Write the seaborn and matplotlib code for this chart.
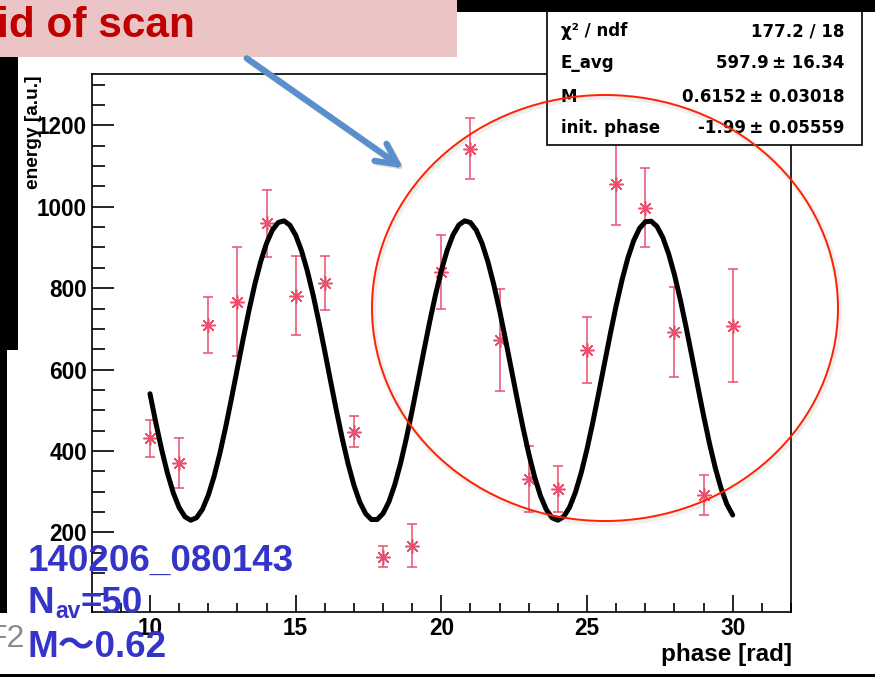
import numpy as np
import matplotlib
matplotlib.use("Agg")
import matplotlib.pyplot as plt
import matplotlib.patheffects as pe
from matplotlib.patches import Rectangle, Ellipse, FancyArrowPatch, ArrowStyle
from matplotlib.ticker import MultipleLocator
import seaborn as sns

# ---- measured scan points ----
phase = [10, 11, 12, 13, 14, 15, 16, 17, 18, 19, 20,
         21, 22, 23, 24, 25, 26, 27, 28, 29, 30]
energy = [431, 370, 710, 767, 959, 782, 812, 448, 141, 168, 840,
          1142, 673, 332, 307, 648, 1056, 998, 693, 292, 708]
energy_err = [45, 61, 69, 134, 83, 96, 66, 39, 26, 52, 90,
              75, 125, 81, 56, 80, 100, 96, 110, 49, 139]

# ---- fit result: E = E_avg * (1 + M cos(phase + init_phase)) ----
fit_names = ["\u03c7\u00b2 / ndf", "E_avg", "M", "init. phase"]
fit_values = ["177.2 / 18", "597.9\u2009\u00b1 16.34", "0.6152\u2009\u00b1 0.03018", "-1.99\u2009\u00b1 0.05559"]
E_avg = 597.9
M_fit = 0.6152
init_phase = -1.99

run_id = "140206_080143"
n_av = "50"
m_note = "M\uff5e0.62"
banner = "id of scan"

PINK = "#E8506E"
BLUE = "#3434C8"

sns.set_theme(style="white")
plt.rcParams["font.family"] = ["Liberation Sans", "Noto Sans CJK JP", "DejaVu Sans"]

W, H = 875, 677
fig = plt.figure(figsize=(W / 100, H / 100), dpi=100)
fig.patch.set_facecolor("white")


def fx(px):
    return px / W


def fy(py):
    return 1 - py / H


left, right, top, bottom = 91.7, 791.0, 74.0, 612.3
ax = fig.add_axes([fx(left), fy(bottom), (right - left) / W, (bottom - top) / H])
ax.set_facecolor("white")

# error bars and asterisk markers
ax.errorbar(phase, energy, yerr=energy_err, fmt="none", ecolor=PINK,
            elinewidth=1.1, capsize=3.6, capthick=1.1, zorder=3)
sns.scatterplot(x=phase, y=energy, marker=(8, 2, 0), s=95, color=PINK,
                linewidth=1.1, ax=ax, zorder=4, legend=False)

# fitted curve
x_fit = np.linspace(10, 30, 101)
y_fit = E_avg * (1 + M_fit * np.cos(x_fit + init_phase))
sns.lineplot(x=x_fit, y=y_fit, color="black", linewidth=3.6, sort=False,
             estimator=None, ax=ax, zorder=5, legend=False)

ax.set_xlim(8, 32)
ax.set_ylim(4, 1326)
ax.xaxis.set_major_locator(MultipleLocator(5))
ax.xaxis.set_minor_locator(MultipleLocator(1))
ax.yaxis.set_major_locator(MultipleLocator(200))
ax.yaxis.set_minor_locator(MultipleLocator(50))
ax.tick_params(which="both", direction="in", top=False, right=False,
               bottom=True, left=True, width=1.2, color="black")
ax.tick_params(axis="x", which="major", length=12.5)
ax.tick_params(axis="x", which="minor", length=6.5)
ax.tick_params(axis="y", which="major", length=16)
ax.tick_params(axis="y", which="minor", length=9)
ax.tick_params(axis="both", which="major", labelsize=16.3, pad=3.5, labelcolor="black")
for lbl in ax.get_xticklabels() + ax.get_yticklabels():
    lbl.set_fontweight("bold")
for sp in ax.spines.values():
    sp.set_visible(True)
    sp.set_color("black")
    sp.set_linewidth(1.2)
ax.set_xlabel("")
ax.set_ylabel("")
ax.grid(False)

# axis titles
fig.text(fx(792), fy(655), "phase [rad]", ha="right", va="center",
         fontsize=17.5, fontweight="bold", color="black")
fig.text(fx(33), fy(75), "energy [a.u.]", ha="center", va="top", rotation=90,
         fontsize=13.8, fontweight="bold", color="black")

# statistics box
fig.add_artist(Rectangle((fx(546.7), fy(145)), (861.7 - 546.7) / W, (145 - 8) / H,
                         transform=fig.transFigure, facecolor="white",
                         edgecolor="black", linewidth=1.2, zorder=6))
row_base = [36.5, 68, 102, 133]
for name, val, yb in zip(fit_names, fit_values, row_base):
    fig.text(fx(561), fy(yb), name, ha="left", va="baseline", fontsize=12,
             fontweight="bold", family=["DejaVu Sans"], color="black", zorder=7)
    fig.text(fx(844), fy(yb), val, ha="right", va="baseline", fontsize=12,
             fontweight="bold", family=["DejaVu Sans"], color="black", zorder=7)

# dark screen edges
for (x0, y0, x1, y1) in [(457, 0, 875, 11.7), (0, 57, 18, 350), (0, 350, 7, 613), (0, 674, 875, 677)]:
    fig.add_artist(Rectangle((fx(x0), fy(y1)), (x1 - x0) / W, (y1 - y0) / H,
                             transform=fig.transFigure, facecolor="black",
                             edgecolor="none", zorder=8))

# banner
fig.add_artist(Rectangle((0, fy(57)), fx(457), 57 / H, transform=fig.transFigure,
                         facecolor="#EBC5C5", edgecolor="none", zorder=9))
fig.text(fx(-3), fy(36.7), banner, ha="left", va="baseline", fontsize=30.5,
         fontweight="bold", color="#C00000", zorder=10)

# pointer arrow
arrow = FancyArrowPatch((fx(246.7), fy(58.3)), (fx(403.3), fy(168.3)),
                        transform=fig.transFigure,
                        arrowstyle=ArrowStyle("->", head_length=1.5, head_width=0.75),
                        mutation_scale=10, linewidth=4.5, color="#5B8FCB",
                        shrinkA=0, shrinkB=0, zorder=11,
                        path_effects=[pe.SimpleLineShadow(offset=(1.2, -1.2), shadow_color="0.4", alpha=0.2),
                                      pe.Normal()])
fig.add_artist(arrow)

# highlight ellipse
ell = Ellipse((fx(605), fy(308)), 466 / W, 426 / H, transform=fig.transFigure,
              fill=False, edgecolor="#FF2200", linewidth=1.4, zorder=12,
              path_effects=[pe.SimpleLineShadow(offset=(1.0, -1.5), shadow_color="0.5", alpha=0.12, linewidth=4),
                            pe.Normal()])
fig.add_artist(ell)

# run annotation
BIG = 26.5
fig.text(fx(28), fy(571), run_id, ha="left", va="baseline", fontsize=BIG,
         fontweight="bold", color=BLUE, zorder=13)
t_n = fig.text(fx(28), fy(613), "N", ha="left", va="baseline", fontsize=BIG,
               fontweight="bold", color=BLUE, zorder=13)
t_av = fig.text(0, 0, "av", fontsize=16.5, fontweight="bold", color=BLUE, zorder=13)
t_eq = fig.text(0, 0, "=" + n_av, fontsize=BIG, fontweight="bold", color=BLUE, zorder=13)
fig.canvas.draw()
r = fig.canvas.get_renderer()
bb_n = t_n.get_window_extent(r)
t_av.set_position((fx(bb_n.x1 + 1), fy(618)))
t_av.set_va("baseline")
bb_av = t_av.get_window_extent(r)
t_eq.set_position((fx(bb_av.x1 - 1), fy(613)))
t_eq.set_va("baseline")
fig.text(fx(28), fy(657), m_note, ha="left", va="baseline", fontsize=BIG,
         fontweight="bold", color=BLUE, zorder=13)
fig.text(fx(25), fy(647), "F2", ha="right", va="baseline", fontsize=23,
         color="#8C8C8C", zorder=13)

fig.savefig("out.png", dpi=100)
